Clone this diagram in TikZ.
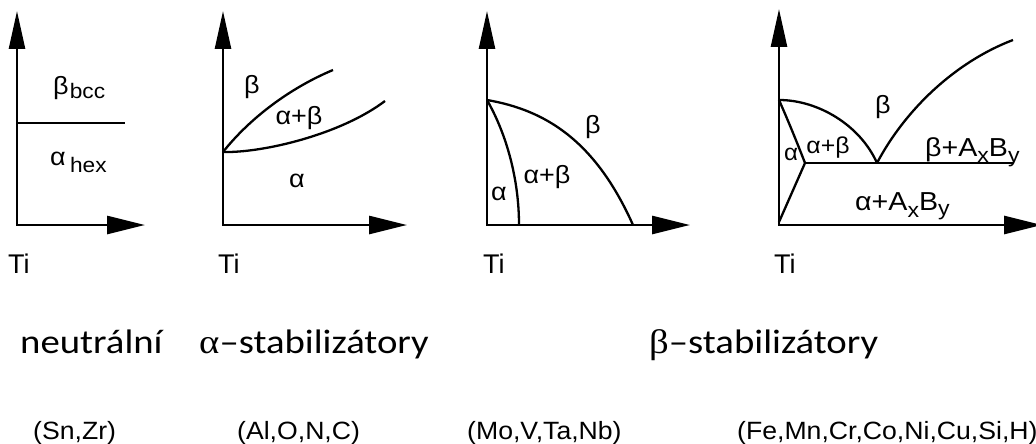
\documentclass[tikz,border=0pt]{standalone}
\usepackage{graphicx}
\usepackage{fontspec}
\setmainfont{Liberation Sans}
\newfontfamily\calibrifont{Carlito}
\newfontfamily\greekserif{Liberation Serif}
\usetikzlibrary{arrows.meta}
% horizontally stretched text, as in the reference
\newcommand\hs[2]{\scalebox{#1}[1]{#2}}
\newcommand\lowsub[2]{\raisebox{-#1}{\fontsize{21}{21}\selectfont #2}}
\begin{document}
\begin{tikzpicture}[x=1pt,y=-1pt,
  axis/.style={line width=2.6pt,{Triangle[length=38pt,width=16pt]}-{Triangle[length=38pt,width=18pt]}},
  phase/.style={line width=2.3pt},
  lab/.style={font=\fontsize{25}{25}\selectfont, inner sep=0pt, anchor=base},
  biglab/.style={font=\fontsize{26}{26}\selectfont, inner sep=0pt, anchor=base west},
  ti/.style={font=\fontsize{27}{27}\selectfont, inner sep=0pt, anchor=base west},
  head/.style={font=\calibrifont\fontsize{34}{34}\selectfont, inner sep=0pt, anchor=base west},
  elem/.style={font=\fontsize{25}{25}\selectfont, inner sep=0pt, anchor=base west}]
\useasboundingbox (0,0) rectangle (1036,444);
% ---------- panel 1 : neutral
\coordinate (t1) at (17,11); \coordinate (o1) at (17,225); \coordinate (r1) at (145,225);
\draw[axis] (t1) -- (o1) -- (r1);
\coordinate (h1a) at (17,123); \coordinate (h1b) at (125,123);
\draw[phase] (h1a) -- (h1b);
\node[lab, anchor=base west] (b1) at (53,94) {\hs{1.08}{β\hspace{1pt}\lowsub{5pt}{bcc}}};
\node[lab, anchor=base west] (a1) at (50,165) {\hs{1.08}{α\hspace{4pt}\lowsub{7pt}{hex}}};
\node[ti] (ti1) at (8,273) {Ti};
% ---------- panel 2 : alpha stabilisers
\coordinate (t2) at (223,11); \coordinate (o2) at (223,225); \coordinate (r2) at (407,225);
\draw[axis] (t2) -- (o2) -- (r2);
\coordinate (p2) at (223,152);
\coordinate (e2a) at (333,70); \coordinate (e2b) at (385,101);
\draw[phase] (p2) .. controls (250,118) and (290,88) .. (e2a);
\draw[phase] (p2) .. controls (262,153) and (340,135) .. (e2b);
\node[lab] (b2) at (252,93) {\hs{1.08}{β}};
\node[lab] (ab2) at (299,124) {\hs{1.08}{α+β}};
\node[lab] (a2) at (297,187) {\hs{1.08}{α}};
\node[ti] (ti2) at (218,273) {Ti};
% ---------- panel 3 : beta isomorphous
\coordinate (t3) at (487,11); \coordinate (o3) at (487,225); \coordinate (r3) at (690,225);
\draw[axis] (t3) -- (o3) -- (r3);
\coordinate (p3) at (487,100);
\coordinate (e3a) at (519,225); \coordinate (e3b) at (633,225);
\draw[phase] (p3) .. controls (507,135) and (519,180) .. (e3a);
\draw[phase] (p3) .. controls (545,110) and (595,140) .. (e3b);
\node[lab] (b3) at (593,133) {\hs{1.08}{β}};
\node[lab] (ab3) at (547,183) {\hs{1.08}{α+β}};
\node[lab] (a3) at (499,200) {\hs{1.08}{α}};
\node[ti] (ti3) at (483,273) {Ti};
% ---------- panel 4 : beta eutectoid
\coordinate (t4) at (779,9); \coordinate (o4) at (779,225); \coordinate (r4) at (1042,225);
\draw[axis] (t4) -- (o4) -- (r4);
\coordinate (p4) at (779,100);
\coordinate (k4) at (805,163);
\coordinate (eu4) at (877,163);
\coordinate (h4) at (1013,163);
\coordinate (e4) at (1013,40);
\coordinate (q4) at (779,222);
\draw[phase] (p4) .. controls (818,100) and (860,125) .. (eu4);
\draw[phase] (eu4) .. controls (905,110) and (955,62) .. (e4);
\draw[phase] (k4) -- (h4);
\draw[phase] (p4) .. controls (790,125) and (798,145) .. (k4);
\draw[phase] (k4) -- (q4);
\node[lab] (b4) at (883,113) {\hs{1.08}{β}};
\node[lab, font=\fontsize{23}{23}\selectfont] (a4) at (791,160) {\hs{1.05}{α}};
\node[lab, font=\fontsize{23}{23}\selectfont] (ab4) at (828,153) {\hs{1.08}{α+β}};
\node[biglab] (bab4) at (925,156) {\hs{1.1}{β+A\lowsub{6pt}{x}B\lowsub{6pt}{y}}};
\node[biglab] (aab4) at (855,210) {\hs{1.1}{α+A\lowsub{7pt}{x}B\lowsub{5pt}{y}}};
\node[ti] (ti4) at (774,273) {Ti};
% ---------- headings
\node[head] (hn) at (20,353) {\hs{1.14}{neutrální}};
\node[head] (ha) at (199,353) {\hs{1.14}{{\greekserif α}–stabilizátory}};
\node[head] (hb) at (649,353) {\hs{1.14}{{\greekserif β}–stabilizátory}};
% ---------- element lists
\node[elem] (en) at (33,439) {\hs{1.065}{(Sn,Zr)}};
\node[elem] (ea) at (237,439) {\hs{1.065}{(Al,O,N,C)}};
\node[elem] (eb) at (467,439) {\hs{1.065}{(Mo,V,Ta,Nb)}};
\node[elem] (ec) at (737,439) {\hs{1.065}{(Fe,Mn,Cr,Co,Ni,Cu,Si,H)}};
\end{tikzpicture}
\end{document}
